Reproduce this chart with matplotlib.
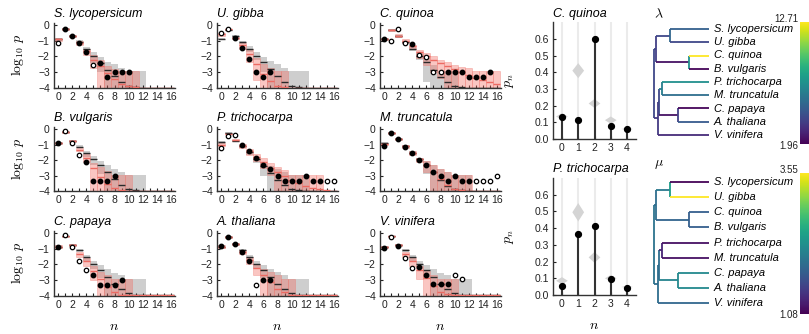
import numpy as np
import matplotlib
matplotlib.use("Agg")
import matplotlib.pyplot as plt
from matplotlib.colors import Normalize
from matplotlib.cm import ScalarMappable

plt.rcParams["font.family"] = ["Liberation Sans", "DejaVu Sans"]
plt.rcParams["mathtext.fontset"] = "cm"

nan = np.nan
n_vals = np.arange(17)

species = ["S. lycopersicum", "U. gibba", "C. quinoa",
           "B. vulgaris", "P. trichocarpa", "M. truncatula",
           "C. papaya", "A. thaliana", "V. vinifera"]

# observed log10 frequencies (filled / open markers)
filled = {
    "S. lycopersicum": [nan, -0.23, -0.68, -1.12, -1.74, nan, -2.39, -3.28, -2.96, -2.96, -2.96, nan, nan, nan, nan, nan, nan],
    "U. gibba":        [nan, nan, -0.85, -1.48, -2.18, -2.96, -3.28, -2.96, nan, nan, nan, nan, nan, nan, nan, nan, nan],
    "C. quinoa":       [-0.91, nan, nan, nan, -1.23, nan, nan, nan, nan, -2.96, -2.96, -2.96, -3.28, -3.28, -3.28, -2.96, nan],
    "B. vulgaris":     [-0.92, nan, nan, nan, -2.15, -3.33, -3.33, -3.33, -3.01, nan, nan, nan, nan, nan, nan, nan, nan],
    "P. trichocarpa":  [nan, nan, nan, -1.03, -1.40, -1.89, -2.32, -2.58, -3.03, -3.33, -3.33, -3.33, -3.01, -3.33, -3.33, nan, nan],
    "M. truncatula":   [-1.08, -0.26, -0.65, -1.14, -1.57, -2.00, -2.32, -2.75, -3.03, -3.33, -3.01, -3.33, -3.33, nan, nan, nan, nan],
    "C. papaya":       [-0.86, nan, nan, nan, nan, -2.70, -3.31, -3.31, -3.31, -3.03, nan, nan, nan, nan, nan, nan, nan],
    "A. thaliana":     [-0.82, -0.22, -0.69, -1.19, -1.77, nan, -3.03, -3.03, nan, nan, nan, nan, nan, nan, nan, nan, nan],
    "V. vinifera":     [-0.97, nan, -0.80, nan, nan, -2.17, -2.69, -3.28, -3.28, -3.28, nan, nan, nan, nan, nan, nan, nan],
}
hollow = {
    "S. lycopersicum": [-1.12, nan, nan, nan, nan, -2.54, nan, nan, nan, nan, nan, nan, nan, nan, nan, nan, nan],
    "U. gibba":        [-0.53, -0.28, nan, nan, nan, nan, nan, nan, nan, nan, nan, nan, nan, nan, nan, nan, nan],
    "C. quinoa":       [nan, -1.00, -0.25, -1.12, nan, -1.90, -2.05, -2.96, -2.96, nan, nan, nan, nan, nan, nan, nan, nan],
    "B. vulgaris":     [nan, -0.10, -0.92, -1.68, nan, nan, nan, nan, nan, nan, nan, nan, nan, nan, nan, nan, nan],
    "P. trichocarpa":  [-1.25, -0.45, -0.39, nan, nan, nan, nan, nan, nan, nan, nan, nan, nan, nan, nan, -3.33, -3.33],
    "M. truncatula":   [nan, nan, nan, nan, nan, nan, nan, nan, nan, nan, nan, nan, nan, -3.33, -3.33, -3.33, -3.01],
    "C. papaya":       [nan, -0.11, -0.86, -1.77, -2.34, nan, nan, nan, nan, nan, nan, nan, nan, nan, nan, nan, nan],
    "A. thaliana":     [nan, nan, nan, nan, nan, -3.31, nan, nan, nan, nan, nan, nan, nan, nan, nan, nan, nan],
    "V. vinifera":     [nan, -0.21, nan, -1.58, -2.23, nan, nan, nan, nan, nan, -2.69, -2.95, nan, nan, nan, nan, nan],
}

# model 1 (gray): mean line and interval
gray_mid = {
    "S. lycopersicum": [-0.90, -0.25, -0.70, -1.05, -1.55, -2.00, -2.40, -2.85, -3.25, -3.60, -3.85, -3.95, -3.98, -3.99, -3.99, -3.99, -3.99],
    "U. gibba":        [-0.90, -0.30, -0.70, -1.10, -1.50, -1.95, -2.35, -2.80, -3.25, -3.60, -3.85, -3.95, -3.98, -3.99, -3.99, -3.99, -3.99],
    "C. quinoa":       [-0.90, -0.30, -0.70, -1.10, -1.50, -1.95, -2.35, -2.85, -3.30, -3.65, -3.85, -3.95, -3.98, -3.99, -3.99, -3.99, -3.99],
    "B. vulgaris":     [-0.90, -0.20, -0.75, -1.15, -1.55, -1.95, -2.35, -2.80, -3.25, -3.60, -3.85, -3.95, -3.98, -3.99, -3.99, -3.99, -3.99],
    "P. trichocarpa":  [-0.85, -0.25, -0.75, -1.10, -1.50, -1.95, -2.40, -2.85, -3.30, -3.60, -3.85, -3.95, -3.98, -3.99, -3.99, -3.99, -3.99],
    "M. truncatula":   [-0.90, -0.25, -0.65, -1.10, -1.55, -1.95, -2.35, -2.80, -3.30, -3.65, -3.85, -3.95, -3.98, -3.99, -3.99, -3.99, -3.99],
    "C. papaya":       [-0.85, -0.20, -0.75, -1.10, -1.55, -1.95, -2.35, -2.80, -3.25, -3.60, -3.85, -3.95, -3.98, -3.99, -3.99, -3.99, -3.99],
    "A. thaliana":     [-0.85, -0.22, -0.70, -1.10, -1.55, -1.95, -2.35, -2.80, -3.25, -3.60, -3.85, -3.95, -3.98, -3.99, -3.99, -3.99, -3.99],
    "V. vinifera":     [-0.90, -0.20, -0.75, -1.10, -1.55, -1.95, -2.35, -2.80, -3.25, -3.60, -3.85, -3.95, -3.98, -3.99, -3.99, -3.99, -3.99],
}
gray_lo = {
    "S. lycopersicum": [-1.00, -0.30, -0.78, -1.20, -1.75, -2.40, -3.00, -4, -4, -4, -4, -4, -4, -4, -4, -4, -4],
    "U. gibba":        [-0.95, -0.35, -0.80, -1.20, -1.70, -2.25, -3.00, -4, -4, -4, -4, -4, -4, -4, -4, -4, -4],
    "C. quinoa":       [-0.95, -0.35, -0.80, -1.20, -1.65, -2.25, -3.60, -4, -4, -4, -4, -4, -4, -4, -4, -4, -4],
    "B. vulgaris":     [-0.95, -0.25, -0.85, -1.25, -1.80, -2.35, -2.90, -4, -4, -4, -4, -4, -4, -4, -4, -4, -4],
    "P. trichocarpa":  [-0.95, -0.30, -0.82, -1.20, -1.65, -2.20, -3.00, -4, -4, -4, -4, -4, -4, -4, -4, -4, -4],
    "M. truncatula":   [-1.00, -0.30, -0.72, -1.20, -1.70, -2.10, -2.90, -4, -4, -4, -4, -4, -4, -4, -4, -4, -4],
    "C. papaya":       [-0.92, -0.25, -0.82, -1.20, -1.75, -2.30, -2.90, -4, -4, -4, -4, -4, -4, -4, -4, -4, -4],
    "A. thaliana":     [-0.92, -0.27, -0.78, -1.20, -1.75, -2.30, -2.90, -4, -4, -4, -4, -4, -4, -4, -4, -4, -4],
    "V. vinifera":     [-0.97, -0.25, -0.82, -1.20, -1.75, -2.30, -2.90, -4, -4, -4, -4, -4, -4, -4, -4, -4, -4],
}
gray_hi = {
    "S. lycopersicum": [-0.80, -0.20, -0.62, -0.95, -1.42, -1.72, -2.05, -2.35, -2.50, -2.70, -2.95, -2.95, -2.95, -4, -4, -4, -4],
    "U. gibba":        [-0.80, -0.25, -0.65, -1.00, -1.35, -1.70, -2.05, -2.30, -2.50, -2.70, -2.95, -2.95, -2.95, -4, -4, -4, -4],
    "C. quinoa":       [-0.85, -0.25, -0.65, -1.00, -1.40, -1.80, -2.10, -2.55, -2.95, -2.95, -2.95, -4, -4, -4, -4, -4, -4],
    "B. vulgaris":     [-0.85, -0.15, -0.68, -1.05, -1.42, -1.72, -2.05, -2.30, -2.55, -2.75, -2.95, -2.95, -2.95, -4, -4, -4, -4],
    "P. trichocarpa":  [-0.75, -0.20, -0.68, -1.00, -1.38, -1.80, -2.15, -2.40, -2.60, -2.80, -2.95, -2.95, -2.95, -4, -4, -4, -4],
    "M. truncatula":   [-0.85, -0.20, -0.60, -1.02, -1.45, -1.85, -2.05, -2.35, -2.60, -2.80, -2.95, -2.95, -2.95, -4, -4, -4, -4],
    "C. papaya":       [-0.78, -0.15, -0.68, -1.02, -1.42, -1.75, -2.05, -2.30, -2.55, -2.70, -2.95, -2.95, -2.95, -4, -4, -4, -4],
    "A. thaliana":     [-0.78, -0.17, -0.62, -1.00, -1.42, -1.75, -2.05, -2.30, -2.50, -2.70, -2.95, -2.95, -2.95, -4, -4, -4, -4],
    "V. vinifera":     [-0.83, -0.15, -0.68, -1.02, -1.42, -1.75, -2.05, -2.30, -2.55, -2.70, -2.95, -2.95, -2.95, -4, -4, -4, -4],
}

# model 2 (red): mean line and interval
red_mid = {
    "S. lycopersicum": [-0.90, -0.25, -0.70, -1.15, -1.65, -2.20, -2.60, -3.05, -3.45, -3.75, -3.90, -3.96, -3.98, -3.98, -3.98, -3.98, -3.98],
    "U. gibba":        [-0.60, -0.28, -0.85, -1.30, -1.85, -2.45, -3.10, -3.55, -3.85, -3.95, -3.97, -3.98, -3.98, -3.98, -3.98, -3.98, -3.98],
    "C. quinoa":       [-0.90, -0.32, -0.68, -1.00, -1.35, -1.70, -1.95, -2.20, -2.40, -2.60, -2.80, -3.00, -3.20, -3.35, -3.50, -3.65, -3.75],
    "B. vulgaris":     [-0.90, -0.20, -0.75, -1.35, -1.85, -2.50, -3.10, -3.55, -3.80, -3.95, -3.97, -3.98, -3.98, -3.98, -3.98, -3.98, -3.98],
    "P. trichocarpa":  [-1.00, -0.30, -0.70, -1.10, -1.45, -1.80, -2.15, -2.50, -2.80, -3.05, -3.30, -3.50, -3.65, -3.80, -3.90, -3.95, -3.97],
    "M. truncatula":   [-0.95, -0.25, -0.65, -1.10, -1.55, -1.95, -2.30, -2.75, -3.20, -3.60, -3.85, -3.95, -3.97, -3.98, -3.98, -3.98, -3.98],
    "C. papaya":       [-0.85, -0.20, -0.75, -1.30, -1.80, -2.40, -2.95, -3.45, -3.80, -3.95, -3.97, -3.98, -3.98, -3.98, -3.98, -3.98, -3.98],
    "A. thaliana":     [-0.85, -0.22, -0.70, -1.20, -1.70, -2.20, -2.70, -3.15, -3.55, -3.80, -3.95, -3.97, -3.98, -3.98, -3.98, -3.98, -3.98],
    "V. vinifera":     [-0.90, -0.20, -0.75, -1.30, -1.80, -2.35, -2.90, -3.40, -3.75, -3.90, -3.97, -3.98, -3.98, -3.98, -3.98, -3.98, -3.98],
}
red_lo = {
    "S. lycopersicum": [-1.00, -0.30, -0.78, -1.30, -1.90, -2.75, -4, -4, -4, -4, -4, -4, -4, -4, -4, -4, -4],
    "U. gibba":        [-0.70, -0.32, -0.92, -1.50, -2.35, -3.50, -4, -4, -4, -4, -4, -4, -4, -4, -4, -4, -4],
    "C. quinoa":       [-0.95, -0.38, -0.75, -1.12, -1.50, -2.12, -2.54, -2.96, -3.39, -4, -4, -4, -4, -4, -4, -4, -4],
    "B. vulgaris":     [-0.95, -0.25, -0.85, -1.45, -2.10, -4, -4, -4, -4, -4, -4, -4, -4, -4, -4, -4, -4],
    "P. trichocarpa":  [-1.10, -0.35, -0.78, -1.20, -1.65, -2.05, -2.50, -2.95, -4, -4, -4, -4, -4, -4, -4, -4, -4],
    "M. truncatula":   [-1.05, -0.30, -0.72, -1.20, -1.70, -2.10, -2.80, -4, -4, -4, -4, -4, -4, -4, -4, -4, -4],
    "C. papaya":       [-0.92, -0.25, -0.82, -1.50, -2.10, -3.00, -4, -4, -4, -4, -4, -4, -4, -4, -4, -4, -4],
    "A. thaliana":     [-0.92, -0.27, -0.78, -1.35, -1.95, -2.70, -4, -4, -4, -4, -4, -4, -4, -4, -4, -4, -4],
    "V. vinifera":     [-0.97, -0.25, -0.82, -1.50, -2.10, -2.95, -4, -4, -4, -4, -4, -4, -4, -4, -4, -4, -4],
}
red_hi = {
    "S. lycopersicum": [-0.80, -0.20, -0.62, -1.02, -1.50, -1.90, -2.25, -2.60, -2.80, -2.90, -2.95, -2.95, -4, -4, -4, -4, -4],
    "U. gibba":        [-0.50, -0.24, -0.78, -1.15, -1.55, -2.12, -2.50, -2.70, -2.95, -2.95, -4, -4, -4, -4, -4, -4, -4],
    "C. quinoa":       [-0.85, -0.27, -0.60, -0.92, -1.25, -1.59, -1.80, -2.00, -2.22, -2.33, -2.54, -2.65, -2.75, -2.92, -2.95, -2.95, -2.95],
    "B. vulgaris":     [-0.85, -0.15, -0.68, -1.20, -1.60, -2.20, -2.45, -2.70, -2.95, -2.95, -2.95, -4, -4, -4, -4, -4, -4],
    "P. trichocarpa":  [-0.90, -0.25, -0.62, -0.98, -1.30, -1.60, -1.90, -2.20, -2.45, -2.65, -2.95, -2.95, -2.95, -2.95, -2.95, -4, -4],
    "M. truncatula":   [-0.88, -0.20, -0.60, -1.02, -1.45, -1.85, -2.05, -2.35, -2.60, -2.80, -2.95, -2.95, -2.95, -4, -4, -4, -4],
    "C. papaya":       [-0.78, -0.15, -0.68, -1.20, -1.60, -2.10, -2.50, -2.70, -2.95, -2.95, -2.95, -4, -4, -4, -4, -4, -4],
    "A. thaliana":     [-0.78, -0.17, -0.62, -1.10, -1.50, -1.95, -2.30, -2.50, -2.70, -2.95, -2.95, -4, -4, -4, -4, -4, -4],
    "V. vinifera":     [-0.83, -0.15, -0.68, -1.20, -1.60, -2.10, -2.45, -2.65, -2.95, -2.95, -2.95, -4, -4, -4, -4, -4, -4],
}

# right-hand panels: p_n for n = 0..4
pn_n = np.arange(5)
pn_species = ["C. quinoa", "P. trichocarpa"]
pn_obs = {"C. quinoa": [0.13, 0.112, 0.598, 0.076, 0.060],
          "P. trichocarpa": [0.054, 0.365, 0.414, 0.097, 0.044]}
pn_pred = {"C. quinoa": [0.135, 0.41, 0.213, 0.113, 0.060],
           "P. trichocarpa": [0.085, 0.495, 0.225, 0.100, 0.048]}
pn_spread = {"C. quinoa": [0.02, 0.045, 0.027, 0.022, 0.007],
             "P. trichocarpa": [0.022, 0.055, 0.033, 0.02, 0.007]}

# tree (shared topology), branch depths and rates
tips = ["S. lycopersicum", "U. gibba", "C. quinoa", "B. vulgaris",
        "P. trichocarpa", "M. truncatula", "C. papaya", "A. thaliana", "V. vinifera"]
children = {"root": ("up", "low"), "up": ("SU", "CB"), "SU": (tips[0], tips[1]),
            "CB": (tips[2], tips[3]), "low": ("PMCA", tips[8]), "PMCA": ("PM", "CA"),
            "PM": (tips[4], tips[5]), "CA": (tips[6], tips[7])}
depth = {"root": 0.0, "up": 0.035, "SU": 0.29, "CB": 0.64, "low": 0.06,
         "PMCA": 0.086, "PM": 0.14, "CA": 0.43}

lam_range = (1.96, 12.71)
lam_branch = {"up": 4.3, "low": 3.8, "SU": 4.3, "CB": 2.5, "PMCA": 4.3, "PM": 6.5, "CA": 2.5,
              tips[0]: 5.2, tips[1]: 4.3, tips[2]: 12.71, tips[3]: 2.1, tips[4]: 7.3,
              tips[5]: 5.8, tips[6]: 2.1, tips[7]: 5.0, tips[8]: 3.3}
lam_node = {"root": 4.3, "up": 4.0, "SU": 5.5, "CB": 7.3, "low": 3.8, "PMCA": 4.3,
            "PM": 6.5, "CA": 4.0}

mu_range = (1.08, 3.55)
mu_branch = {"up": 1.95, "low": 1.95, "SU": 2.07, "CB": 1.87, "PMCA": 1.95, "PM": 1.33, "CA": 2.19,
             tips[0]: 1.10, tips[1]: 3.55, tips[2]: 1.82, tips[3]: 1.82, tips[4]: 1.18,
             tips[5]: 1.18, tips[6]: 2.24, tips[7]: 2.24, tips[8]: 1.90}
mu_node = {"root": 2.02, "up": 1.95, "SU": 2.44, "CB": 1.82, "low": 1.95, "PMCA": 1.95,
           "PM": 1.33, "CA": 2.24}

W, H = 809, 334
fig = plt.figure(figsize=(W / 100, H / 100), dpi=100)


def px_axes(l, t, r, b):
    return fig.add_axes([l / W, 1 - b / H, (r - l) / W, (b - t) / H])


def style(ax):
    for s in ("top", "right"):
        ax.spines[s].set_visible(False)
    for s in ("left", "bottom"):
        ax.spines[s].set_color("#333333")
        ax.spines[s].set_linewidth(1.0)
    ax.tick_params(labelsize=7.5, length=2.5, width=0.8, direction="in", pad=3, colors="#222222")


cols = [54, 217, 380]
rows = [(22.6, 88), (126.7, 191), (231, 295.5)]
for k, sp in enumerate(species):
    r, c = divmod(k, 3)
    l = cols[c]
    t, b = rows[r]
    ax = px_axes(l, t, l + 121, b)
    gl, gh = np.array(gray_lo[sp]), np.array(gray_hi[sp])
    rl, rh = np.array(red_lo[sp]), np.array(red_hi[sp])
    ax.bar(n_vals, gh - gl, bottom=gl, width=1.0, color="#8c8c8c", alpha=0.42, lw=0, zorder=1)
    ax.bar(n_vals, rh - rl, bottom=rl, width=1.0, color="#f26a60", alpha=0.38, lw=0.6,
           edgecolor=(0.93, 0.45, 0.42, 0.5), zorder=2)
    ax.hlines(gray_mid[sp], n_vals - 0.5, n_vals + 0.5, color="#2a2a2a", lw=1.0, zorder=3)
    ax.hlines(red_mid[sp], n_vals - 0.5, n_vals + 0.5, color="#ec6a62", lw=1.0, zorder=3)
    ax.plot(n_vals, filled[sp], "o", ms=3.2, color="black", zorder=5)
    ax.plot(n_vals, hollow[sp], "o", ms=3.2, mfc="white", mec="black", mew=0.9, zorder=5)
    ax.set_xlim(-0.6, 16.6)
    ax.set_ylim(-4, 0.15)
    ax.set_xticks(np.arange(0, 17, 2))
    ax.set_xticks(np.arange(17), minor=True)
    ax.set_yticks([0, -1, -2, -3, -4])
    style(ax)
    ax.tick_params(which="minor", length=2.5, width=0.8, direction="in", colors="#222222")
    ax.set_title(sp, loc="left", fontsize=9, style="italic", pad=4)
    if c == 0:
        ax.set_ylabel(r"$\log_{10}\,p$", fontsize=10)
        ax.yaxis.set_label_coords(-0.23, 0.5)
    if r == 2:
        ax.set_xlabel(r"$n$", fontsize=10)
        ax.xaxis.set_label_coords(0.5, -0.36)

# right-hand p_n panels
pn_boxes = [(22.3, 139), (178, 295)]
for k, sp in enumerate(pn_species):
    t, b = pn_boxes[k]
    ax = px_axes(553, t, 636, b)
    for x in pn_n:
        ax.axvline(x, color="#ebebeb", lw=1.5, zorder=0)
    for x, cy, h in zip(pn_n, pn_pred[sp], pn_spread[sp]):
        ax.fill([x - 0.36, x, x + 0.36, x], [cy, cy + h, cy, cy - h],
                color="#d4d4d4", lw=0, zorder=1)
    ax.vlines(pn_n, 0, pn_obs[sp], color="#333333", lw=1.5, zorder=2)
    ax.plot(pn_n, pn_obs[sp], "o", ms=4.2, color="black", zorder=3)
    ax.set_xlim(-0.55, 4.55)
    ax.set_ylim(0, 0.7)
    ax.set_xticks(pn_n)
    ax.set_yticks(np.arange(0, 0.61, 0.1))
    ax.set_yticklabels([f"{v:.1f}" for v in np.arange(0, 0.61, 0.1)])
    style(ax)
    ax.set_title(sp, loc="left", fontsize=9, style="italic", pad=4)
    ax.set_ylabel(r"$p_n$", fontsize=10)
    ax.yaxis.set_label_coords(-0.44, 0.5)
    if k == 1:
        ax.set_xlabel(r"$n$", fontsize=10)
        ax.xaxis.set_label_coords(0.5, -0.2)


def node_y(name):
    if name in tips:
        return tips.index(name)
    a, b2 = children[name]
    return 0.5 * (node_y(a) + node_y(b2))


def node_x(name):
    return 1.0 if name in tips else depth[name]


def draw_tree(ax, branch, node, cmap, norm):
    for parent, kids in children.items():
        px = node_x(parent)
        ys = [node_y(kk) for kk in kids]
        ax.plot([px, px], ys, color=cmap(norm(node[parent])), lw=1.3, solid_capstyle="butt")
        for kk in kids:
            ky = node_y(kk)
            ax.plot([px, node_x(kk)], [ky, ky], color=cmap(norm(branch[kk])), lw=1.3,
                    solid_capstyle="butt")
    for i, name in enumerate(tips):
        ax.text(1.09, i, name, fontsize=8, style="italic", va="center", ha="left")
    ax.axis("off")


cmap = plt.get_cmap("viridis")
trees = [(lam_branch, lam_node, lam_range, (10, 150), 29, 13.25, r"$\lambda$", 14, (22, 144), (18.5, 146)),
         (mu_branch, mu_node, mu_range, (165, 320), 182, 15.125, r"$\mu$", 164, (173, 314), (170, 315))]
for branch, node, rng, (t, b), y0, dy, lab, laby, (ct, cb), (ly_top, ly_bot) in trees:
    ax = px_axes(645, t, 800, b)
    norm = Normalize(*rng)
    draw_tree(ax, branch, node, cmap, norm)
    ax.set_xlim(-10 / 58, 155 / 58)
    ax.set_ylim((b - y0) / dy, (t - y0) / dy)
    fig.text(654 / W, 1 - laby / H, lab, fontsize=10, ha="left", va="center")
    cax = px_axes(800, ct, 812, cb)
    fig.colorbar(ScalarMappable(norm=norm, cmap=cmap), cax=cax).outline.set_visible(False)
    cax.set_yticks([])
    fig.text(798 / W, 1 - ly_top / H, f"{rng[1]:.2f}", fontsize=7, color="#222222",
             ha="right", va="center")
    fig.text(798 / W, 1 - ly_bot / H, f"{rng[0]:.2f}", fontsize=7, color="#222222",
             ha="right", va="center")

fig.savefig("out.png", dpi=100)
